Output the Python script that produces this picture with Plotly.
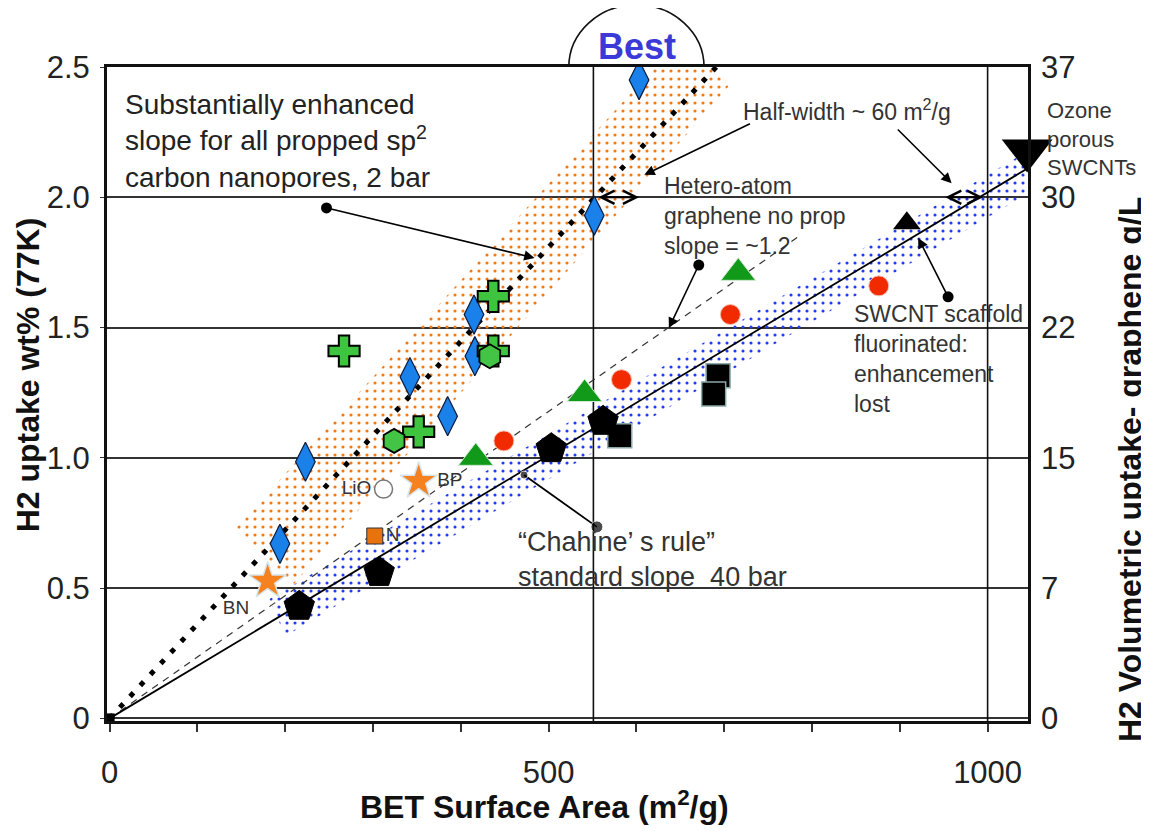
import plotly.graph_objects as go

FONT = "Liberation Sans, Arial, sans-serif"

# ---------------- axes ----------------
X_RANGE = [-3, 1046]
Y_RANGE = [-0.01, 2.5]
VOL_MAX = 37.0                     # right axis value at 2.5 wt%
x_tickvals = [0, 100, 200, 300, 400, 500, 600, 700, 800, 900, 1000]
x_ticktext = ["0", "", "", "", "", "500", "", "", "", "", "1000"]
y_tickvals = [0, 0.5, 1.0, 1.5, 2.0, 2.5]
y_ticktext = ["0", "0.5", "1.0", "1.5", "2.0", "2.5"]
vol_ticktext = ["0", "7", "15", "22", "30", "37"]

# ---------------- data series ----------------
diamond_x = [603, 552, 415, 416, 342, 385, 223, 194]
diamond_y = [2.45, 1.93, 1.55, 1.39, 1.31, 1.16, 0.985, 0.67]
cross_x = [267, 437, 352, 437]
cross_y = [1.41, 1.62, 1.10, 1.41]
hex_x = [324, 433]
hex_y = [1.065, 1.39]
gtri_x = [417, 541, 716]
gtri_y = [1.00, 1.245, 1.71]
red_x = [449, 583, 707, 876]
red_y = [1.065, 1.30, 1.55, 1.66]
bsq_x = [581, 693, 688]
bsq_y = [1.085, 1.315, 1.245]
pent_x = [216, 307, 503, 562]
pent_y = [0.43, 0.56, 1.035, 1.14]
btri_x = [908]
btri_y = [1.90]
bdown_x = [1045]
bdown_y = [2.18]
star_x = [180, 352]
star_y = [0.527, 0.91]
star_labels = ["BN", "BP"]
osq_x = [302]
osq_y = [0.70]
osq_labels = ["N"]
lio_x = [312]
lio_y = [0.88]
lio_labels = ["LiO"]
origin_x = [0]
origin_y = [0]

# trend lines (end points)
dotted_x = [0, 691]
dotted_y = [0, 2.50]
dashed_x = [0, 785]
dashed_y = [0, 1.85]
solid_x = [0, 1050]
solid_y = [0, 2.12]

# dotted bands (corners)
orange_band_x = [143, 208, 706, 653]
orange_band_y = [0.727, 0.508, 2.43, 2.62]
blue_band_x = [182, 200, 1068, 1037]
blue_band_y = [0.458, 0.315, 2.06, 2.16]

# reference vertical lines
ref_x = [551, 1000]

# callout arrows: (tail_x, tail_y, head_x, head_y, tail_dot)
callouts = [
    (247, 1.959, 484, 1.767, True),
    (731, 2.285, 609, 2.086, False),
    (896, 2.266, 959, 2.054, False),
    (671, 1.740, 637, 1.498, True),
    (955, 1.618, 921, 1.844, True),
]
chahine_x = [555, 472]
chahine_y = [0.735, 0.934]
# double-headed half-width arrows on 2.0 line
hw_arrows = [(555, 603, 2.0), (950, 995, 2.0)]

CLEAR = "rgba(255,255,255,0)"

fig = go.Figure()

# bands
fig.add_trace(go.Scatter(
    x=orange_band_x + orange_band_x[:1], y=orange_band_y + orange_band_y[:1],
    fill="toself", fillcolor=CLEAR, mode="lines", line=dict(width=0, color=CLEAR),
    fillpattern=dict(shape=".", fgcolor="#f07818", bgcolor=CLEAR, size=8,
                     solidity=0.12, fillmode="replace"),
    hoverinfo="skip"))
fig.add_trace(go.Scatter(
    x=blue_band_x + blue_band_x[:1], y=blue_band_y + blue_band_y[:1],
    fill="toself", fillcolor=CLEAR, mode="lines", line=dict(width=0, color=CLEAR),
    fillpattern=dict(shape=".", fgcolor="#1f3cf0", bgcolor=CLEAR, size=8,
                     solidity=0.12, fillmode="replace"),
    hoverinfo="skip"))

# reference lines
for rx in ref_x:
    fig.add_trace(go.Scatter(x=[rx, rx], y=[Y_RANGE[0], Y_RANGE[1]], mode="lines",
                             line=dict(color="#111", width=1.6), hoverinfo="skip"))

# trend lines
fig.add_trace(go.Scatter(x=dashed_x, y=dashed_y, mode="lines",
                         line=dict(color="#333", width=1.2, dash="7px,6px")))
fig.add_trace(go.Scatter(x=solid_x, y=solid_y, mode="lines",
                         line=dict(color="#000", width=1.8)))
fig.add_trace(go.Scatter(x=dotted_x, y=dotted_y, mode="lines",
                         line=dict(color="#000", width=5, dash="5px,10px")))

# markers
fig.add_trace(go.Scatter(x=diamond_x, y=diamond_y, mode="markers",
                         marker=dict(symbol="diamond-tall", size=28, color="#1a80ea",
                                     line=dict(color="#0a1a3a", width=1.2))))
fig.add_trace(go.Scatter(x=cross_x, y=cross_y, mode="markers",
                         marker=dict(symbol="cross", size=26, color="#3ec43e",
                                     line=dict(color="#000", width=2))))
fig.add_trace(go.Scatter(x=hex_x, y=hex_y, mode="markers",
                         marker=dict(symbol="hexagon", size=24, color="#44c444",
                                     line=dict(color="#000", width=1.8))))
fig.add_trace(go.Scatter(x=gtri_x, y=gtri_y, mode="markers",
                         marker=dict(symbol="triangle-up", size=30, color="#119a1a",
                                     line=dict(color="#cfe8d0", width=1))))
fig.add_trace(go.Scatter(x=red_x, y=red_y, mode="markers",
                         marker=dict(symbol="circle", size=20, color="#f22a00",
                                     line=dict(color="#f6c0b0", width=1))))
fig.add_trace(go.Scatter(x=bsq_x, y=bsq_y, mode="markers",
                         marker=dict(symbol="square", size=24, color="#000",
                                     line=dict(color="#8aa8a8", width=1.5))))
fig.add_trace(go.Scatter(x=pent_x, y=pent_y, mode="markers",
                         marker=dict(symbol="pentagon", size=32, color="#000",
                                     line=dict(color="#000", width=1))))
fig.add_trace(go.Scatter(x=btri_x, y=btri_y, mode="markers",
                         marker=dict(symbol="triangle-up", size=24, color="#000")))
fig.add_trace(go.Scatter(x=bdown_x, y=bdown_y, mode="markers", cliponaxis=False,
                         marker=dict(symbol="triangle-down", size=44, color="#000")))
fig.add_trace(go.Scatter(x=star_x, y=star_y, mode="markers+text", text=star_labels,
                         textposition=["bottom left", "middle right"],
                         textfont=dict(family=FONT, size=19, color="#333"),
                         marker=dict(symbol="star", size=28, color="#f5821f",
                                     line=dict(color="#d8e4ec", width=1.5))))
fig.add_trace(go.Scatter(x=osq_x, y=osq_y, mode="markers+text", text=osq_labels,
                         textposition="middle right",
                         textfont=dict(family=FONT, size=19, color="#333"),
                         marker=dict(symbol="square", size=16, color="#e8720c",
                                     line=dict(color="#333", width=1))))
fig.add_trace(go.Scatter(x=lio_x, y=lio_y, mode="markers+text", text=lio_labels,
                         textposition="middle left",
                         textfont=dict(family=FONT, size=19, color="#333"),
                         marker=dict(symbol="circle", size=18, color="#fff",
                                     line=dict(color="#777", width=1.5))))
fig.add_trace(go.Scatter(x=origin_x, y=origin_y, mode="markers", cliponaxis=False,
                         marker=dict(symbol="square", size=10, color="#000")))

# callout tail dots and Chahine connector
fig.add_trace(go.Scatter(x=[c[0] for c in callouts if c[4]],
                         y=[c[1] for c in callouts if c[4]], mode="markers",
                         marker=dict(symbol="circle", size=11, color="#000")))
fig.add_trace(go.Scatter(x=chahine_x, y=chahine_y, mode="lines+markers",
                         line=dict(color="#000", width=1.8),
                         marker=dict(symbol="circle", size=[12, 8], color="#000")))

# invisible trace for right axis
fig.add_trace(go.Scatter(x=[0], y=[0], yaxis="y2", mode="markers",
                         marker=dict(opacity=0), hoverinfo="skip"))

annotations = []
for tx, ty, hx, hy, _ in callouts:
    annotations.append(dict(x=hx, y=hy, ax=tx, ay=ty, xref="x", yref="y",
                            axref="x", ayref="y", text="", showarrow=True,
                            arrowhead=2, arrowsize=1.3, arrowwidth=1.6,
                            arrowcolor="#000"))
for x0, x1, yy in hw_arrows:
    annotations.append(dict(x=x1, y=yy, ax=x0, ay=yy, xref="x", yref="y",
                            axref="x", ayref="y", text="", showarrow=True,
                            arrowhead=5, arrowside="end+start", arrowsize=1.3,
                            arrowwidth=2, arrowcolor="#000"))

def txt(text, x, y, size, color="#333", xref="x", yref="y", **kw):
    d = dict(text=text, x=x, y=y, xref=xref, yref=yref, showarrow=False,
             xanchor="left", yanchor="middle", align="left",
             font=dict(family=FONT, size=size, color=color))
    d.update(kw)
    annotations.append(d)

txt("Substantially enhanced<br>slope for all propped sp<sup>2</sup><br>carbon nanopores, 2 bar",
    15, 2.215, 28, color="#222")
txt("Half-width ~ 60 m<sup>2</sup>/g", 719, 2.335, 23)
txt("Hetero-atom<br>graphene no prop<br>slope = ~1.2", 629, 1.927, 23)
txt("Ozone<br>porous<br>SWCNTs", 1.018, 0.89, 22, xref="paper", yref="paper",
    width=100)
txt("SWCNT scaffold<br>fluorinated:<br>enhancement<br>lost", 845, 1.379, 23)
txt("“Chahine’ s rule”<br>standard slope&nbsp; 40 bar", 463, 0.608, 27)
txt("<b>Best</b>", 601, 1.031, 36, color="#3a3ad8", yref="paper", xanchor="center")

# axis titles
txt("<b>BET Surface Area (m<sup>2</sup>/g)</b>", 0.475, -0.128, 32, color="#111",
    xref="paper", yref="paper", xanchor="center")
txt("<b>H2 uptake wt% (77K)</b>", -0.0858, 0.530, 32, color="#111",
    xref="paper", yref="paper", xanchor="center", textangle=-90)
txt("<b>H2 Volumetric uptake- graphene g/L</b>", 1.111, 0.384, 32, color="#111",
    xref="paper", yref="paper", xanchor="center", textangle=-90)

# "Best" semicircle above the frame (x in data, y in paper)
cx, rx = 600, 77
yc, ry = 1.0, 0.095
k = 0.5523
semi = (f"M {cx-rx},{yc} C {cx-rx},{yc+k*ry} {cx-k*rx},{yc+ry} {cx},{yc+ry} "
        f"C {cx+k*rx},{yc+ry} {cx+rx},{yc+k*ry} {cx+rx},{yc}")
shapes = [dict(type="path", path=semi, xref="x", yref="paper",
               line=dict(color="#111", width=1.6), layer="above")]

fig.update_layout(
    width=1141, height=823,
    margin=dict(l=99, r=121, t=59, b=110),
    paper_bgcolor="white", plot_bgcolor="white",
    showlegend=False,
    font=dict(family=FONT, color="#222"),
    annotations=annotations,
    shapes=shapes,
    xaxis=dict(range=X_RANGE, showgrid=False, zeroline=False,
               showline=True, linecolor="#111", linewidth=3, mirror=True,
               ticks="outside", ticklen=8, tickwidth=2, tickcolor="#333",
               tickvals=x_tickvals, ticktext=x_ticktext,
               tickfont=dict(family=FONT, size=31, color="#222"),
               ticklabelstandoff=14),
    yaxis=dict(range=Y_RANGE, showgrid=True, gridcolor="#333", gridwidth=2,
               zeroline=False, showline=True, linecolor="#111", linewidth=3,
               mirror=True, ticks="outside", ticklen=4, tickcolor="#333",
               tickvals=y_tickvals, ticktext=y_ticktext,
               tickfont=dict(family=FONT, size=31, color="#222"),
               ticklabelstandoff=4),
    yaxis2=dict(range=[Y_RANGE[0] * VOL_MAX / 2.5, VOL_MAX], overlaying="y",
                side="right", showgrid=False, zeroline=False, showline=False,
                tickvals=[v * VOL_MAX / 2.5 for v in y_tickvals],
                ticktext=vol_ticktext, ticks="",
                tickfont=dict(family=FONT, size=31, color="#222"),
                ticklabelstandoff=12),
)

fig.write_html("out.html")
